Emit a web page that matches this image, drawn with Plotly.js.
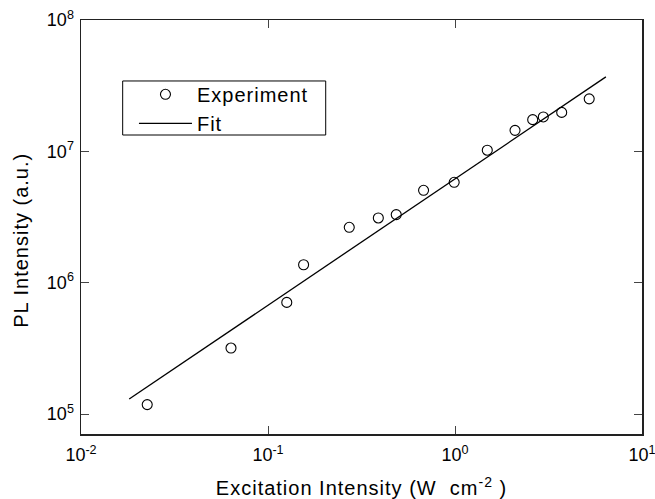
<!DOCTYPE html>
<html>
<head>
<meta charset="utf-8">
<script src="https://cdn.plot.ly/plotly-3.0.1.min.js"></script>
<style>
html,body{margin:0;padding:0;background:#fff;}
#chart{width:655px;height:499px;}
.xtitle, .annotation-text, .legendtext{letter-spacing:1px;}
</style>
</head>
<body>
<div id="chart"></div>
<script>
var expX = [0.0226, 0.0634, 0.126, 0.155, 0.272, 0.389, 0.485, 0.679, 0.99, 1.488, 2.094, 2.603, 2.966, 3.72, 5.22];
var expY = [1.18e5, 3.18e5, 7.08e5, 1.37e6, 2.64e6, 3.11e6, 3.30e6, 5.05e6, 5.81e6, 1.02e7, 1.445e7, 1.743e7, 1.828e7, 1.98e7, 2.51e7];
// Fit line end points
var fitX = [0.0181, 6.41];
var fitY = [1.30e5, 3.69e7];
// Tick labels
var xTickVals = [0.01, 0.1, 1, 10];
var xTickText = ['10<sup>-2</sup>', '10<sup>-1</sup>', '10<sup>0</sup>', '10<sup>1</sup>'];
var yTickVals = [1e5, 1e6, 1e7, 1e8];
var yTickText = ['10<sup>5</sup>', '10<sup>6</sup>', '10<sup>7</sup>', '10<sup>8</sup>'];
var xTitle = 'Excitation Intensity (W  cm<sup>-2</sup> )';
var yTitle = 'PL Intensity (a.u.)';

var FONT = 'Liberation Sans, Arial, sans-serif';

var traces = [
  {x: expX, y: expY, mode: 'markers', type: 'scatter', name: 'Experiment',
   marker: {symbol: 'circle-open', size: 10, color: '#000', line: {width: 1.1, color: '#000'}}},
  {x: fitX, y: fitY, mode: 'lines', type: 'scatter', name: 'Fit',
   line: {color: '#000', width: 1.3}}
];

var axisCommon = {
  type: 'log', showgrid: false, zeroline: false,
  showline: true, linecolor: '#222', linewidth: 1.5, mirror: 'ticks',
  ticks: 'inside', ticklen: 8, tickwidth: 1, tickcolor: '#444',
  ticklabeloverflow: 'allow',
  tickfont: {family: FONT, size: 18, color: '#000'}
};

var layout = {
  width: 655, height: 499,
  margin: {l: 81, r: 13, t: 20, b: 65},
  paper_bgcolor: '#fff', plot_bgcolor: '#fff',
  showlegend: true,
  legend: {x: 0.0944, y: 0.8676, xanchor: 'left', yanchor: 'top',
           borderwidth: 0, bgcolor: 'rgba(0,0,0,0)',
           font: {family: FONT, size: 20, color: '#000'}, itemwidth: 53,
           tracegroupgap: 0},
  shapes: [{
    type: 'rect', xref: 'paper', yref: 'paper',
    x0: 0.0743, x1: 0.4362, y0: 0.7222, y1: 0.8527,
    line: {color: '#000', width: 1}, fillcolor: 'rgba(0,0,0,0)'
  }],
  xaxis: Object.assign({}, axisCommon, {
    range: [-2, 1], tickvals: xTickVals, ticktext: xTickText,
    ticklabelstandoff: 4,
    title: {text: xTitle, font: {family: FONT, size: 20, color: '#000'}, standoff: 20}
  }),
  yaxis: Object.assign({}, axisCommon, {
    range: [4.848, 8], tickvals: yTickVals, ticktext: yTickText,
    ticklabelstandoff: 2
  }),
  annotations: [{
    text: yTitle, xref: 'paper', yref: 'paper', x: -0.107, y: 0.469,
    xanchor: 'center', yanchor: 'middle', textangle: -90, showarrow: false,
    font: {family: FONT, size: 20, color: '#000'}
  }]
};

Plotly.newPlot('chart', traces, layout, {displayModeBar: false, staticPlot: true});
</script>
</body>
</html>
